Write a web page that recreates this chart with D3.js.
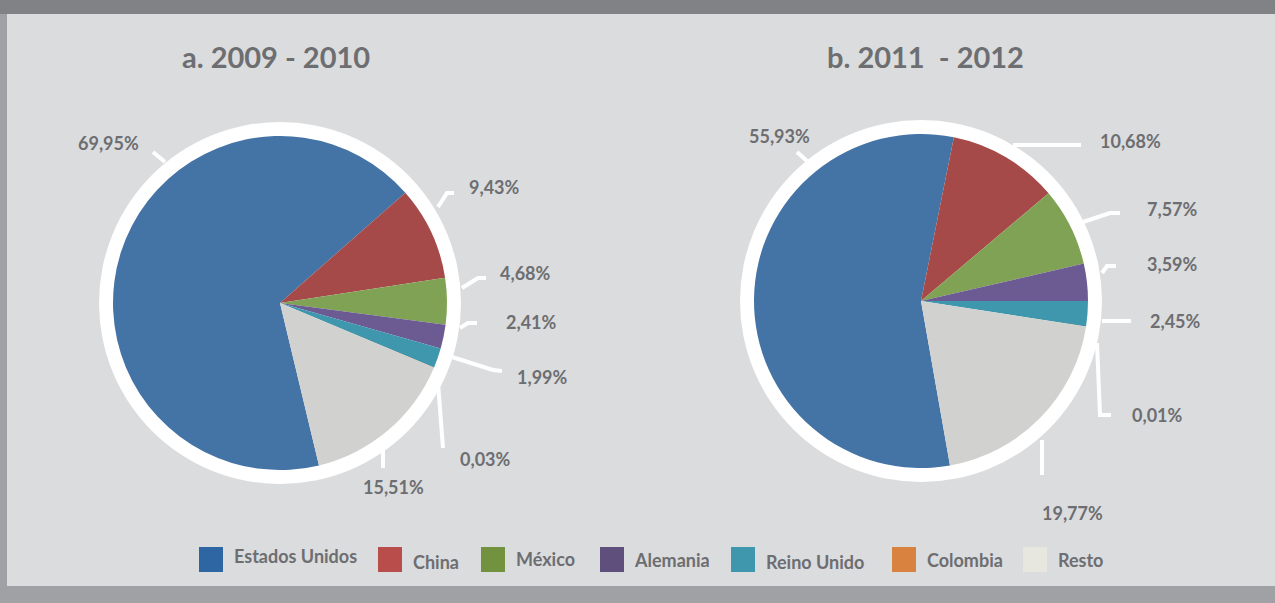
<!DOCTYPE html>
<html>
<head>
<meta charset="utf-8">
<script src="https://cdn.jsdelivr.net/npm/d3@7"></script>
<style>
  body { margin: 0; background: #dbdcde; }
  svg { display: block; }
  text { font-family: Lato, "Open Sans", sans-serif; fill: #6d6e71; }
</style>
</head>
<body>
<div id="chart"></div>
<script>
var width = 1275;
var height = 603;

// data
var categories = ["Estados Unidos", "China", "México", "Alemania", "Reino Unido", "Colombia", "Resto"];
var values2009 = [69.95, 9.43, 4.68, 2.41, 1.99, 0.03, 15.51];
var values2011 = [55.93, 10.68, 7.57, 3.59, 2.45, 0.01, 19.77];
var titles = ["a. 2009 - 2010", "b. 2011  - 2012"];

// colors
var pieColors = ["#4473a5", "#a64a49", "#80a254", "#6b5b92", "#3f97ad", "#d98240", "#d1d2d0"];
var legendColors = ["#2e66a4", "#b94d4b", "#72923f", "#5e4f7c", "#3e97ad", "#d98240", "#e8e7df"];

// layout of the two pies and their leader lines (relative to the pie center)
var pies = [
  {
    values: values2009, title: titles[0], cx: 280, cy: 303, titleX: 182, start: -193.5,
    leaders: [
      { pts: [[-115, -141], [-127, -151]], lx: -202, ly: -153 },
      { pts: [[158, -96], [167, -110], [174, -110]], lx: 189, ly: -109 },
      { pts: [[182, -15], [198, -25], [206, -25]], lx: 220, ly: -23 },
      { pts: [[180, 25], [188, 20], [197, 20]], lx: 226, ly: 26 },
      { pts: [[172, 54], [213, 67], [222, 68]], lx: 237, ly: 81 },
      { pts: [[158, 80], [163, 145]], lx: 180, ly: 163 },
      { pts: [[103, 147], [103, 165]], lx: 83, ly: 191 }
    ]
  },
  {
    values: values2011, title: titles[1], cx: 921, cy: 301, titleX: 827, start: -190,
    leaders: [
      { pts: [[-114, -140], [-124, -149]], lx: -172, ly: -158 },
      { pts: [[92, -156], [160, -156]], lx: 179, ly: -153 },
      { pts: [[162, -79], [189, -88], [199, -88]], lx: 226, ly: -85 },
      { pts: [[181, -28], [186, -35], [195, -35]], lx: 226, ly: -30 },
      { pts: [[181, 20], [210, 20]], lx: 229, ly: 27 },
      { pts: [[176, 42], [179, 114], [190, 114]], lx: 211, ly: 121 },
      { pts: [[121, 139], [121, 174]], lx: 121, ly: 219 }
    ]
  }
];

var legendX = [199, 378, 481, 600, 731, 892, 1023];
var legendBase = [563, 569, 566, 567, 569, 567, 567];

var radius = 167;
var ringWidth = 14;

var svg = d3.select("#chart")
  .append("svg")
  .attr("width", width)
  .attr("height", height);

// frame
svg.append("rect").attr("width", width).attr("height", height).attr("fill", "#dbdcde");
svg.append("rect").attr("x", 0).attr("y", 0).attr("width", 7).attr("height", height).attr("fill", "#a0a1a5");
svg.append("rect").attr("x", 0).attr("y", 586).attr("width", width).attr("height", height - 586).attr("fill", "#a0a1a5");
svg.append("rect").attr("x", 0).attr("y", 0).attr("width", width).attr("height", 14).attr("fill", "#818286");

var color = d3.scaleOrdinal().domain(categories).range(pieColors);
var arc = d3.arc().innerRadius(0).outerRadius(radius);
var fmt = function (v) { return d3.format(".2f")(v).replace(".", ",") + "%"; };

pies.forEach(function (p) {
  var a0 = p.start * Math.PI / 180;
  var pie = d3.pie().sort(null).startAngle(a0).endAngle(a0 + 2 * Math.PI);
  var rows = categories.map(function (c, i) { return { name: c, value: p.values[i] }; });

  svg.append("text")
    .attr("x", p.titleX)
    .attr("y", 68)
    .text(p.title)
    .style("font-size", "29px")
    .style("font-weight", "bold")
    .style("white-space", "pre");

  var g = svg.append("g").attr("transform", "translate(" + p.cx + "," + p.cy + ")");

  g.append("circle")
    .attr("r", radius + ringWidth)
    .attr("fill", "white");

  g.selectAll("path.slice")
    .data(pie.value(function (d) { return d.value; })(rows))
    .enter()
    .append("path")
    .attr("class", "slice")
    .attr("d", arc)
    .attr("fill", function (d) { return color(d.data.name); });

  var line = d3.line();
  g.selectAll("path.leader")
    .data(p.leaders)
    .enter()
    .append("path")
    .attr("class", "leader")
    .attr("d", function (d) { return line(d.pts); })
    .attr("fill", "none")
    .attr("stroke", "white")
    .attr("stroke-width", 4);

  g.selectAll("text.label")
    .data(p.leaders)
    .enter()
    .append("text")
    .attr("class", "label")
    .attr("x", function (d) { return d.lx; })
    .attr("y", function (d) { return d.ly; })
    .text(function (d, i) { return fmt(p.values[i]); })
    .style("font-size", "18px")
    .style("font-weight", "bold");
});

// legend
var legend = svg.selectAll("g.legend")
  .data(categories)
  .enter()
  .append("g")
  .attr("class", "legend")
  .attr("transform", function (d, i) { return "translate(" + legendX[i] + ",0)"; });

legend.append("rect")
  .attr("x", 0)
  .attr("y", 547)
  .attr("width", 24)
  .attr("height", 25)
  .attr("fill", function (d, i) { return legendColors[i]; });

legend.append("text")
  .attr("x", 35)
  .attr("y", function (d, i) { return legendBase[i]; })
  .text(function (d) { return d; })
  .style("font-size", "18px")
  .style("font-weight", "bold");
</script>
</body>
</html>
